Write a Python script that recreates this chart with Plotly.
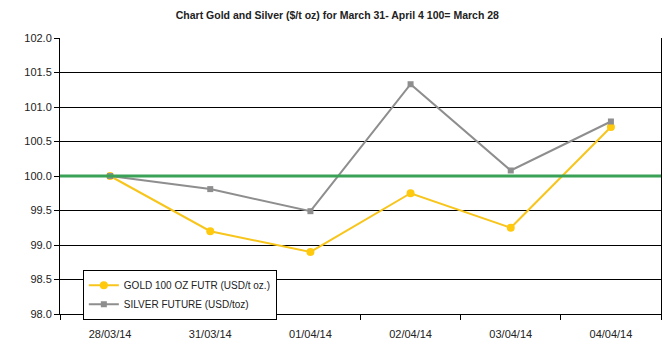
import plotly.graph_objects as go

dates = ["28/03/14", "31/03/14", "01/04/14", "02/04/14", "03/04/14", "04/04/14"]
gold = [100.0, 99.2, 98.9, 99.75, 99.25, 100.71]
silver = [100.0, 99.81, 99.49, 101.33, 100.08, 100.79]
baseline = 100.0
y_ticks = [98.0, 98.5, 99.0, 99.5, 100.0, 100.5, 101.0, 101.5, 102.0]

fig = go.Figure()
fig.add_trace(go.Scatter(
    x=dates, y=gold, mode="lines+markers", name="GOLD 100 OZ FUTR (USD/t oz.)",
    line=dict(color="#F7C51B", width=2),
    marker=dict(symbol="circle", size=8, color="#FFC90E"),
))
fig.add_trace(go.Scatter(
    x=dates, y=silver, mode="lines+markers", name="SILVER FUTURE (USD/toz)",
    line=dict(color="#8E8E8E", width=2),
    marker=dict(symbol="square", size=6, color="#8E8E8E"),
))
fig.add_hline(y=baseline, line=dict(color="#3AA257", width=3), layer="above")

fig.update_layout(
    width=668, height=350,
    margin=dict(l=60, r=7, t=38, b=36),
    paper_bgcolor="white", plot_bgcolor="white",
    font=dict(family="Arial, Liberation Sans, sans-serif", size=11, color="#222"),
    title=dict(
        text="<b>Chart Gold and Silver ($/t oz) for March 31- April 4 100= March 28</b>",
        x=0.505, xanchor="center", y=0.955, yanchor="middle",
        font=dict(size=10.5, color="#222"),
    ),
    showlegend=True,
    legend=dict(
        x=0.038, y=0.16, xanchor="left", yanchor="top",
        bordercolor="black", borderwidth=1, bgcolor="white",
        font=dict(size=10, color="#222"),
        tracegroupgap=0, itemsizing="trace", itemwidth=30,
    ),
    xaxis=dict(
        type="category", showgrid=False, showline=True, linecolor="black", linewidth=1,
        ticks="outside", tickson="boundaries", ticklen=5, tickcolor="black",
        tickfont=dict(size=11), range=[-0.5, 5.5], ticklabelstandoff=10,
    ),
    yaxis=dict(
        range=[98, 102], tickvals=y_ticks, ticktext=[f"{v:.1f}" for v in y_ticks],
        showgrid=True, gridcolor="black", gridwidth=1,
        showline=True, linecolor="black", linewidth=1, mirror=True,
        ticks="outside", ticklen=5, tickcolor="black", zeroline=False,
        tickfont=dict(size=11),
    ),
)

fig.write_html("out.html")
